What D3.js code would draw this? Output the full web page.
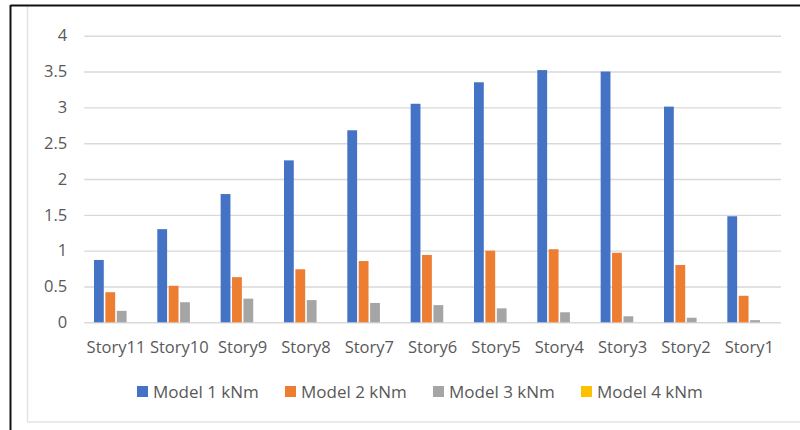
<!DOCTYPE html>
<html>
<head>
<meta charset="utf-8">
<script src="https://cdn.jsdelivr.net/npm/d3@7"></script>
<style>
  html, body { margin: 0; padding: 0; background: #fff; }
  svg { display: block; }
  text { font-family: "Open Sans", "Noto Sans", sans-serif; fill: #595959; }
</style>
</head>
<body>
<svg id="chart" width="800" height="430"></svg>
<script>
// Bending moment per storey for the four models (kNm)
const categories = ["Story11", "Story10", "Story9", "Story8", "Story7", "Story6",
                    "Story5", "Story4", "Story3", "Story2", "Story1"];
const model1 = [0.87, 1.30, 1.79, 2.26, 2.68, 3.05, 3.35, 3.52, 3.50, 3.01, 1.48];
const model2 = [0.42, 0.51, 0.63, 0.74, 0.855, 0.94, 1.00, 1.02, 0.97, 0.80, 0.37];
const model3 = [0.16, 0.28, 0.33, 0.31, 0.27, 0.24, 0.195, 0.14, 0.084, 0.064, 0.03];
const model4 = [0, 0, 0, 0, 0, 0, 0, 0, 0, 0, 0];
const seriesNames = ["Model 1 kNm", "Model 2 kNm", "Model 3 kNm", "Model 4 kNm"];
const seriesColors = ["#4472C4", "#ED7D31", "#A5A5A5", "#FFC000"];
const yTicks = [0, 0.5, 1, 1.5, 2, 2.5, 3, 3.5, 4];

const seriesValues = [model1, model2, model3, model4];
const rows = categories.map((c, i) => ({
  category: c,
  values: seriesValues.map((vals, s) => ({ key: seriesNames[s], value: vals[i], color: seriesColors[s] }))
}));

const svg = d3.select("#chart");

// Chart frame: dark outer edge on top/left, light inner frame
svg.append("line").attr("x1", 27.5).attr("x2", 27.5).attr("y1", 6).attr("y2", 422)
  .attr("stroke", "#e3e3e3").attr("stroke-width", 1.5);
svg.append("line").attr("x1", 27.5).attr("x2", 800).attr("y1", 422).attr("y2", 422)
  .attr("stroke", "#e3e3e3").attr("stroke-width", 1.5);
svg.append("line").attr("x1", 10.5).attr("x2", 800).attr("y1", 5.5).attr("y2", 5.5)
  .attr("stroke", "#111").attr("stroke-width", 2);
svg.append("line").attr("x1", 10.5).attr("x2", 10.5).attr("y1", 5).attr("y2", 430)
  .attr("stroke", "#111").attr("stroke-width", 2);

const plot = { left: 84.3, right: 781, top: 35.7, bottom: 322.3 };

const y = d3.scaleLinear().domain([0, 4]).range([plot.bottom, plot.top]);
const x0 = d3.scaleBand().domain(categories).range([plot.left, plot.right]).padding(0);
const groupWidth = 44;
const x1 = d3.scaleBand().domain(seriesNames).range([0, groupWidth]).paddingInner(0.14);

// Horizontal gridlines
const yAxis = d3.axisLeft(y).tickValues(yTicks).tickSize(-(plot.right - plot.left))
  .tickFormat(d3.format("~g")).tickPadding(17);
const gy = svg.append("g").attr("transform", `translate(${plot.left},0)`).call(yAxis);
gy.select(".domain").remove();
gy.selectAll(".tick line").attr("stroke", "#d9d9d9").attr("stroke-width", 1.4);
gy.selectAll(".tick text").attr("font-size", 16.5).attr("fill", "#595959")
  .attr("font-family", "'Open Sans', sans-serif");

// Bars
const groups = svg.append("g").selectAll("g").data(rows).join("g")
  .attr("transform", d => `translate(${x0(d.category) + (x0.bandwidth() - groupWidth) / 2},0)`);
groups.selectAll("rect").data(d => d.values).join("rect")
  .attr("x", d => x1(d.key))
  .attr("width", x1.bandwidth())
  .attr("y", d => y(d.value))
  .attr("height", d => y(0) - y(d.value))
  .attr("fill", d => d.color);

// Category labels
const xAxis = d3.axisBottom(x0).tickSize(0).tickPadding(19);
const gx = svg.append("g").attr("transform", `translate(0,${plot.bottom})`).call(xAxis);
gx.select(".domain").remove();
gx.selectAll(".tick text").attr("font-size", 16.5).attr("fill", "#595959")
  .attr("font-family", "'Open Sans', sans-serif");

// Legend
const legendX = d3.scalePoint().domain(seriesNames).range([137, 581]);
const legend = svg.append("g").selectAll("g").data(seriesNames).join("g")
  .attr("transform", d => `translate(${legendX(d)},386)`);
legend.append("rect").attr("width", 11).attr("height", 11)
  .attr("fill", (d, i) => seriesColors[i]);
legend.append("text").attr("x", 16).attr("y", 11.5).attr("font-size", 17).text(d => d);
</script>
</body>
</html>
